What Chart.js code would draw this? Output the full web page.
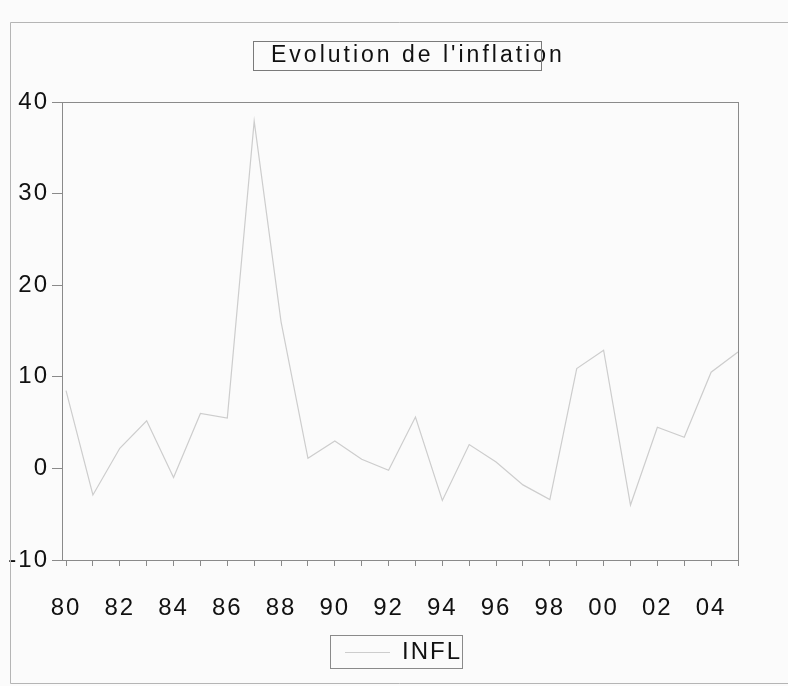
<!DOCTYPE html>
<html>
<head>
<meta charset="utf-8">
<title>Evolution de l'inflation</title>
<script src="https://cdn.jsdelivr.net/npm/chart.js@4/dist/chart.umd.min.js"></script>
<style>
  html, body { margin: 0; padding: 0; background: #fbfbfb; }
  canvas { display: block; }
</style>
</head>
<body>
<canvas id="inflChart" width="788" height="686"></canvas>
<script>
  const years = [1980, 1981, 1982, 1983, 1984, 1985, 1986, 1987, 1988, 1989, 1990, 1991, 1992,
                 1993, 1994, 1995, 1996, 1997, 1998, 1999, 2000, 2001, 2002, 2003, 2004, 2005];
  const infl = [8.5, -2.9, 2.2, 5.2, -1.0, 6.0, 5.5, 37.9, 16.0, 1.1, 3.0, 1.0, -0.2,
                5.6, -3.5, 2.6, 0.7, -1.8, -3.4, 10.9, 12.9, -4.0, 4.5, 3.4, 10.5, 12.7];
  const yTicks = [-10, 0, 10, 20, 30, 40];
  const seriesName = "INFL";
  const chartTitle = "Evolution de l'inflation";

  const FONT = '"Liberation Sans", Arial, sans-serif';
  const INK = "#111";
  const AXIS = "#8a8a8a";

  const paperPlugin = {
    id: "paper",
    beforeDraw(chart) {
      const ctx = chart.ctx;
      ctx.save();
      ctx.fillStyle = "#fbfbfb";
      ctx.fillRect(0, 0, chart.width, chart.height);
      ctx.restore();
      // EViews text is spaced out
      ctx.letterSpacing = "2px";
    },
    afterDraw(chart) {
      const ctx = chart.ctx;
      const a = chart.chartArea;
      ctx.save();
      // frame around the plot
      ctx.strokeStyle = AXIS;
      ctx.lineWidth = 1;
      ctx.strokeRect(a.left + 0.5, a.top + 0.5, a.right - a.left, a.bottom - a.top);

      // outer graph frame
      ctx.strokeStyle = "#b5b5b5";
      ctx.beginPath();
      ctx.moveTo(chart.width, 22.5);
      ctx.lineTo(10.5, 22.5);
      ctx.lineTo(10.5, 683.5);
      ctx.lineTo(chart.width, 683.5);
      ctx.stroke();

      // title with its box (the text runs past the box on the right, as in the scan)
      ctx.letterSpacing = "3px";
      ctx.font = "23px " + FONT;
      ctx.fillStyle = INK;
      ctx.textBaseline = "middle";
      ctx.textAlign = "left";
      ctx.fillText(chartTitle, 271, 56);
      ctx.strokeStyle = "#7a7a7a";
      ctx.strokeRect(253.5, 41.5, 288, 29);

      // legend
      const lx = 330;
      const ly = 652;
      ctx.strokeStyle = "#8a8a8a";
      ctx.strokeRect(lx + 0.5, ly - 16.5, 132, 33);
      const ds = chart.data.datasets[0];
      ctx.strokeStyle = ds.borderColor;
      ctx.beginPath();
      ctx.moveTo(lx + 15, ly + 0.5);
      ctx.lineTo(lx + 60, ly + 0.5);
      ctx.stroke();
      ctx.letterSpacing = "2px";
      ctx.font = "24px " + FONT;
      ctx.fillStyle = INK;
      ctx.fillText(ds.label, lx + 72, ly);
      ctx.restore();
    }
  };

  new Chart(document.getElementById("inflChart"), {
    type: "line",
    data: {
      datasets: [{
        label: seriesName,
        data: years.map((y, i) => ({ x: y, y: infl[i] })),
        borderColor: "#cdcdcd",
        borderWidth: 1.2,
        pointRadius: 0,
        tension: 0,
        fill: false
      }]
    },
    options: {
      responsive: false,
      animation: false,
      events: [],
      layout: { padding: { left: 0, top: 102, right: 50, bottom: 54 } },
      plugins: {
        legend: { display: false },
        title: { display: false },
        tooltip: { enabled: false }
      },
      scales: {
        x: {
          type: "linear",
          min: 1979.85,
          max: 2005,
          afterBuildTicks: (s) => { s.ticks = years.map((v) => ({ value: v })); },
          afterFit: (s) => { s.height = 72; },
          ticks: {
            autoSkip: false,
            maxRotation: 0,
            padding: 28,
            color: INK,
            font: { family: FONT, size: 24 },
            callback: (v) => (v % 2 === 0 ? String(v).slice(2) : "")
          },
          grid: { drawOnChartArea: false, tickLength: 6, color: AXIS, tickColor: AXIS },
          border: { color: AXIS }
        },
        y: {
          min: -10,
          max: 40,
          afterBuildTicks: (s) => { s.ticks = yTicks.map((v) => ({ value: v })); },
          afterFit: (s) => { s.width = 62; },
          ticks: {
            padding: 3,
            color: INK,
            font: { family: FONT, size: 24 },
            callback: (v) => String(v)
          },
          grid: { drawOnChartArea: false, tickLength: 10, color: AXIS, tickColor: AXIS },
          border: { color: AXIS }
        }
      }
    },
    plugins: [paperPlugin]
  });
</script>
</body>
</html>
